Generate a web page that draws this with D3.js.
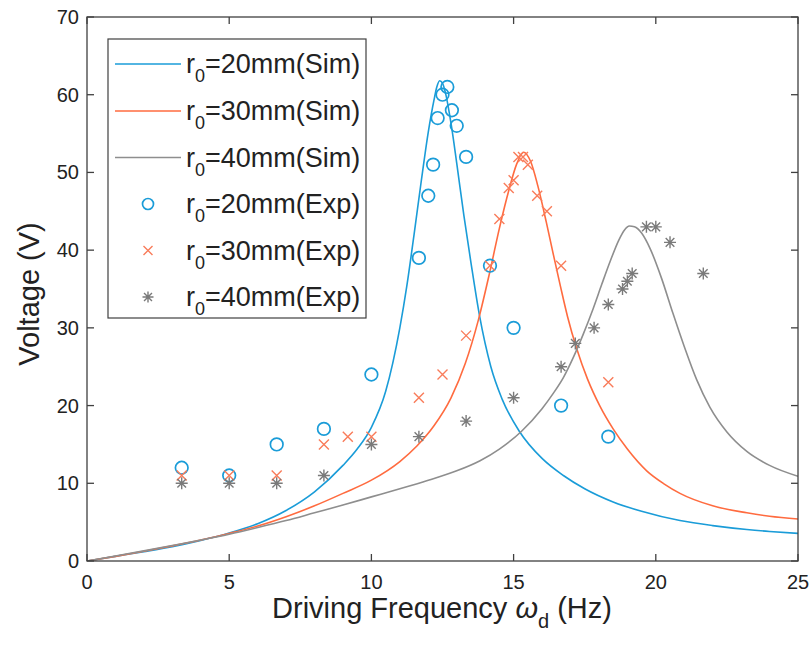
<!DOCTYPE html>
<html>
<head>
<meta charset="utf-8">
<script src="https://d3js.org/d3.v7.min.js"></script>
<style>
  body { margin: 0; background: #fff; }
  text { font-family: "Liberation Sans", Arial, sans-serif; fill: #222; }
</style>
</head>
<body>
<div id="chart"></div>
<script>
// simulated curves [frequency Hz, voltage V]
const sim20 = [[0,0],[1,0.6],[2,1.2],[3,1.85],[4,2.65],[5,3.6],[6,4.8],[7,6.5],[8,8.9],[9,12.3],[9.5,14.4],[10,17.2],[10.5,21.8],[11,30],[11.25,35.5],[11.5,42],[11.75,48.8],[12,55.2],[12.2,59.3],[12.3,61],[12.4,61.8],[12.5,61.5],[12.6,60.3],[12.8,56.3],[13,51.2],[13.25,44.5],[13.5,38.4],[13.8,31.6],[14.2,25],[14.6,20.8],[15.2,16.7],[16,13.2],[16.75,11],[17.5,9.3],[18.5,7.6],[19.5,6.4],[20.85,5.2],[22,4.55],[23.2,4.05],[24,3.8],[25,3.55]];
const sim30 = [[0,0],[1,0.6],[2,1.25],[3,1.95],[4,2.7],[5,3.55],[6,4.5],[7,5.7],[8,7.1],[9,8.7],[10,10.4],[11,12.8],[11.6,14.8],[12.2,17.4],[12.8,21],[13.3,25.4],[13.76,31],[14.17,37.3],[14.5,42.8],[14.84,47.8],[15.1,51],[15.35,52.6],[15.6,51.4],[15.85,48.3],[16.15,43.6],[16.4,39.4],[16.65,35.3],[16.9,31.4],[17.22,27.3],[17.6,23.4],[18.04,19.9],[18.5,17],[19,14.4],[19.68,11.6],[20.3,9.9],[20.85,8.7],[22,7.1],[23.2,6.2],[24,5.75],[25,5.4]];
const sim40 = [[0,0],[1,0.65],[2,1.3],[3,2.0],[4,2.7],[5,3.45],[6,4.3],[7,5.2],[8,6.2],[9,7.2],[10,8.25],[11,9.3],[12,10.4],[13,11.6],[13.82,12.9],[14.5,14.4],[15.28,16.7],[16,19.6],[16.4,21.6],[16.75,23.6],[17.1,26.2],[17.45,29.2],[17.8,32.5],[18.1,35.6],[18.4,38.6],[18.7,41.3],[18.9,42.6],[19.07,43.1],[19.25,43],[19.5,42.2],[19.8,40.2],[20.2,36.4],[20.6,31.9],[21,27.6],[21.44,23.3],[21.9,19.8],[22.5,16.6],[23.2,14.1],[24,12.3],[25,10.9]];

// experimental points
const exp20 = [[3.33,12],[5,11],[6.67,15],[8.33,17],[10,24],[11.67,39],[12,47],[12.17,51],[12.33,57],[12.5,60],[12.67,61],[12.83,58],[13,56],[13.33,52],[14.17,38],[15,30],[16.67,20],[18.33,16]];
const exp30 = [[3.33,11],[5,11],[6.67,11],[8.33,15],[9.17,16],[10,16],[11.67,21],[12.5,24],[13.33,29],[14.17,38],[14.5,44],[14.83,48],[15,49],[15.17,52],[15.33,52],[15.5,51],[15.83,47],[16.17,45],[16.67,38],[18.33,23]];
const exp40 = [[3.33,10],[5,10],[6.67,10],[8.33,11],[10,15],[11.67,16],[13.33,18],[15,21],[16.67,25],[17.17,28],[17.83,30],[18.33,33],[18.83,35],[19,36],[19.17,37],[19.67,43],[20,43],[20.5,41],[21.67,37]];

const xTicks = [0,5,10,15,20,25];
const yTicks = [0,10,20,30,40,50,60,70];
const radii = ["20","30","40"];

const blue = "#1a9cd8", orange = "#ff6b3f", grey = "#8e8e8e";
const orangeMk = "#f97c5a", greyMk = "#7a7a7a";

const W = 811, H = 646;
const pLeft = 87, pRight = 798, pTop = 17, pBottom = 561;

const svg = d3.select("#chart").append("svg")
  .attr("width", W).attr("height", H);
svg.append("rect").attr("width", W).attr("height", H).attr("fill", "#fff");

const x = d3.scaleLinear().domain([0,25]).range([pLeft,pRight]);
const y = d3.scaleLinear().domain([0,70]).range([pBottom,pTop]);

const axisCol = "#404040";

// clip for curves
svg.append("clipPath").attr("id","clip").append("rect")
  .attr("x", pLeft).attr("y", pTop).attr("width", pRight-pLeft).attr("height", pBottom-pTop);

const line = d3.line().x(d => x(d[0])).y(d => y(d[1])).curve(d3.curveMonotoneX);

const plot = svg.append("g").attr("clip-path","url(#clip)");
[[sim20,blue],[sim30,orange],[sim40,grey]].forEach(([data,c]) => {
  plot.append("path").datum(data)
    .attr("fill","none").attr("stroke",c).attr("stroke-width",1.6)
    .attr("d", line);
});

// markers
function circleMk(g, cx, cy, r) {
  g.append("circle").attr("cx",cx).attr("cy",cy).attr("r",r)
    .attr("fill","none").attr("stroke",blue).attr("stroke-width",1.7);
}
function crossMk(g, cx, cy, s) {
  g.append("path").attr("d",`M${cx-s},${cy-s}L${cx+s},${cy+s}M${cx-s},${cy+s}L${cx+s},${cy-s}`)
    .attr("stroke",orangeMk).attr("stroke-width",1.4).attr("fill","none");
}
function starMk(g, cx, cy, s) {
  const d = s*0.72;
  g.append("path").attr("d",`M${cx-s},${cy}L${cx+s},${cy}M${cx},${cy-s}L${cx},${cy+s}M${cx-d},${cy-d}L${cx+d},${cy+d}M${cx-d},${cy+d}L${cx+d},${cy-d}`)
    .attr("stroke",greyMk).attr("stroke-width",1.4).attr("fill","none");
}
const mk = svg.append("g");
exp20.forEach(d => circleMk(mk, x(d[0]), y(d[1]), 6.3));
exp30.forEach(d => crossMk(mk, x(d[0]), y(d[1]), 5));
exp40.forEach(d => starMk(mk, x(d[0]), y(d[1]), 6));

// axes box with inner ticks (matlab style)
const tl = 7;
const ax = svg.append("g").attr("stroke", axisCol).attr("stroke-width", 1.3);
ax.append("rect").attr("x",pLeft).attr("y",pTop).attr("width",pRight-pLeft).attr("height",pBottom-pTop)
  .attr("fill","none");
xTicks.forEach(t => {
  ax.append("line").attr("x1",x(t)).attr("x2",x(t)).attr("y1",pBottom).attr("y2",pBottom-tl);
  ax.append("line").attr("x1",x(t)).attr("x2",x(t)).attr("y1",pTop).attr("y2",pTop+tl);
});
yTicks.forEach(t => {
  ax.append("line").attr("x1",pLeft).attr("x2",pLeft+tl).attr("y1",y(t)).attr("y2",y(t));
  ax.append("line").attr("x1",pRight).attr("x2",pRight-tl).attr("y1",y(t)).attr("y2",y(t));
});

svg.selectAll(".xt").data(xTicks).enter().append("text")
  .attr("x", d => x(d)).attr("y", pBottom + 28)
  .attr("text-anchor","middle").attr("font-size",20).text(d => d);
svg.selectAll(".yt").data(yTicks).enter().append("text")
  .attr("x", pLeft - 8).attr("y", d => y(d) + 7)
  .attr("text-anchor","end").attr("font-size",20).text(d => d);

// axis labels
const xl = svg.append("text").attr("x", 442).attr("y", 618)
  .attr("text-anchor","middle").attr("font-size",29);
xl.append("tspan").text("Driving Frequency ");
xl.append("tspan").attr("font-style","italic").text("ω");
xl.append("tspan").attr("font-size",20).attr("dy",10).text("d");
xl.append("tspan").attr("dy",-10).text(" (Hz)");

svg.append("text").attr("transform","translate(39,294) rotate(-90)")
  .attr("text-anchor","middle").attr("font-size",29).text("Voltage (V)");

// legend
const lg = svg.append("g");
lg.append("rect").attr("x",108).attr("y",39).attr("width",258).attr("height",279)
  .attr("fill","#fff").attr("stroke",axisCol).attr("stroke-width",1.2);
const rowY = [64, 111, 157.5, 204, 250.5, 297];
const kinds = ["Sim","Sim","Sim","Exp","Exp","Exp"];
rowY.forEach((ry, i) => {
  const r = radii[i % 3];
  if (i < 3) {
    lg.append("line").attr("x1",115).attr("x2",181).attr("y1",ry).attr("y2",ry)
      .attr("stroke",[blue,orange,grey][i]).attr("stroke-width",1.6);
  } else if (i === 3) circleMk(lg, 148, ry, 5.5);
  else if (i === 4) crossMk(lg, 148, ry, 4.5);
  else starMk(lg, 148, ry, 5.5);
  const t = lg.append("text").attr("x",186).attr("y",ry + 9).attr("font-size",27);
  t.append("tspan").text("r");
  t.append("tspan").attr("font-size",18).attr("dy",9).text("0");
  t.append("tspan").attr("dy",-9).text("=" + r + "mm(" + kinds[i] + ")");
});
</script>
</body>
</html>
